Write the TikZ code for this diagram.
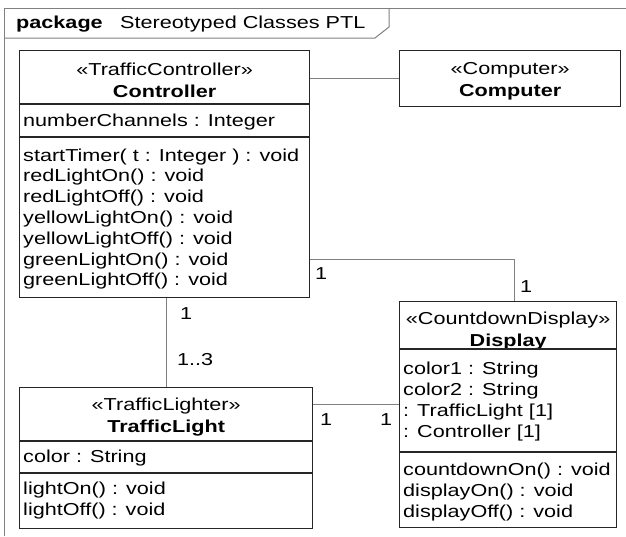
\documentclass[tikz,border=0pt]{standalone}
\usepackage{fontspec}
\setmainfont[FakeStretch=1.25]{Liberation Sans}
\definecolor{boxc}{HTML}{262626}
\definecolor{connc}{HTML}{808080}
\definecolor{framec}{HTML}{808080}
\newcommand\dfont{\fontsize{17.3}{20.8}\selectfont}
\begin{document}
\begin{tikzpicture}[x=1pt,y=-1pt,
  box/.style={draw=boxc, line width=1.3pt, inner sep=0, anchor=north west, fill=white},
  divline/.style={draw=boxc, line width=1.3pt},
  conn/.style={draw=connc, line width=1pt},
  framel/.style={draw=framec, line width=1pt},
  lbl/.style={anchor=base west, inner sep=0, font=\dfont},
  hd/.style={anchor=base, inner sep=0, font=\dfont},
]
\useasboundingbox (0,0) rectangle (626,536);
% frame
\draw[framel] (4,536) -- (4,8) -- (626,8);
\draw[framel] (4,38) -- (375,38) -- (389,27) -- (389,8);
\node[lbl] (pkg) at (16,28) {\bfseries package};
\node[lbl] (pkgname) at (120,28) {Stereotyped Classes PTL};

% boxes
\node[box, minimum width=290pt, minimum height=247pt] (ctrl) at (19,50) {};
\node[box, minimum width=221pt, minimum height=56pt] (comp) at (399,50) {};
\node[box, minimum width=217pt, minimum height=226pt] (disp) at (399,301) {};
\node[box, minimum width=293pt, minimum height=141pt] (tl) at (19,387) {};

% Controller
\node[hd] (ctrlst) at (ctrl.north |- 0,75) {«TrafficController»};
\node[hd] (ctrlnm) at (ctrl.north |- 0,97) {\bfseries Controller};
\draw[divline] (ctrl.west |- 0,104) -- (ctrl.east |- 0,104);
\node[lbl] (ctrlat) at (23,126) {numberChannels : Integer};
\draw[divline] (ctrl.west |- 0,137) -- (ctrl.east |- 0,137);
\foreach \t [count=\i] in {startTimer( t : Integer ) : void, redLightOn() : void, redLightOff() : void, yellowLightOn() : void, yellowLightOff() : void, greenLightOn() : void, greenLightOff() : void}
  \node[lbl] (cm\i) at (23,{161+(\i-1)*20.8}) {\t};

% Computer
\node[hd] (compst) at (comp.north |- 0,74) {«Computer»};
\node[hd] (compnm) at (comp.north |- 0,96) {\bfseries Computer};

% Display
\node[hd] (dispst) at (disp.north |- 0,324) {«CountdownDisplay»};
\node[hd] (dispnm) at (disp.north |- 0,346) {\bfseries Display};
\draw[divline] (disp.west |- 0,349) -- (disp.east |- 0,349);
\foreach \t [count=\i] in {color1 : String, color2 : String, : TrafficLight [1], : Controller [1]}
  \node[lbl] (da\i) at (403,{374+(\i-1)*21}) {\t};
\draw[divline] (disp.west |- 0,452) -- (disp.east |- 0,452);
\foreach \t [count=\i] in {countdownOn() : void, displayOn() : void, displayOff() : void}
  \node[lbl] (dm\i) at (403,{475+(\i-1)*21}) {\t};

% TrafficLight
\node[hd] (tlst) at (tl.north |- 0,410) {«TrafficLighter»};
\node[hd] (tlnm) at (tl.north |- 0,432) {\bfseries TrafficLight};
\draw[divline] (tl.west |- 0,441) -- (tl.east |- 0,441);
\node[lbl] (tlat) at (23,462) {color : String};
\draw[divline] (tl.west |- 0,473) -- (tl.east |- 0,473);
\node[lbl] (tlm1) at (23,494) {lightOn() : void};
\node[lbl] (tlm2) at (23,515) {lightOff() : void};

% connectors
\draw[conn] (comp.west -| ctrl.east) -- (comp.west);
\coordinate (cdk) at (514,259);
\draw[conn] (cdk -| ctrl.east) -- (cdk) -- (cdk |- disp.north);
\coordinate (ctk) at (166,300);
\draw[conn] (ctk |- ctrl.south) -- (ctk |- tl.north);
\coordinate (tdk) at (350,404);
\draw[conn] (tdk -| tl.east) -- (tdk -| disp.west);

% multiplicities
\node[lbl] (m1) at (315,279) {1};
\node[lbl] (m2) at (520,292) {1};
\node[lbl] (m3) at (180,319) {1};
\node[lbl] (m4) at (177,365) {1..3};
\node[lbl] (m5) at (320,425) {1};
\node[lbl] (m6) at (380,425) {1};
\end{tikzpicture}
\end{document}
